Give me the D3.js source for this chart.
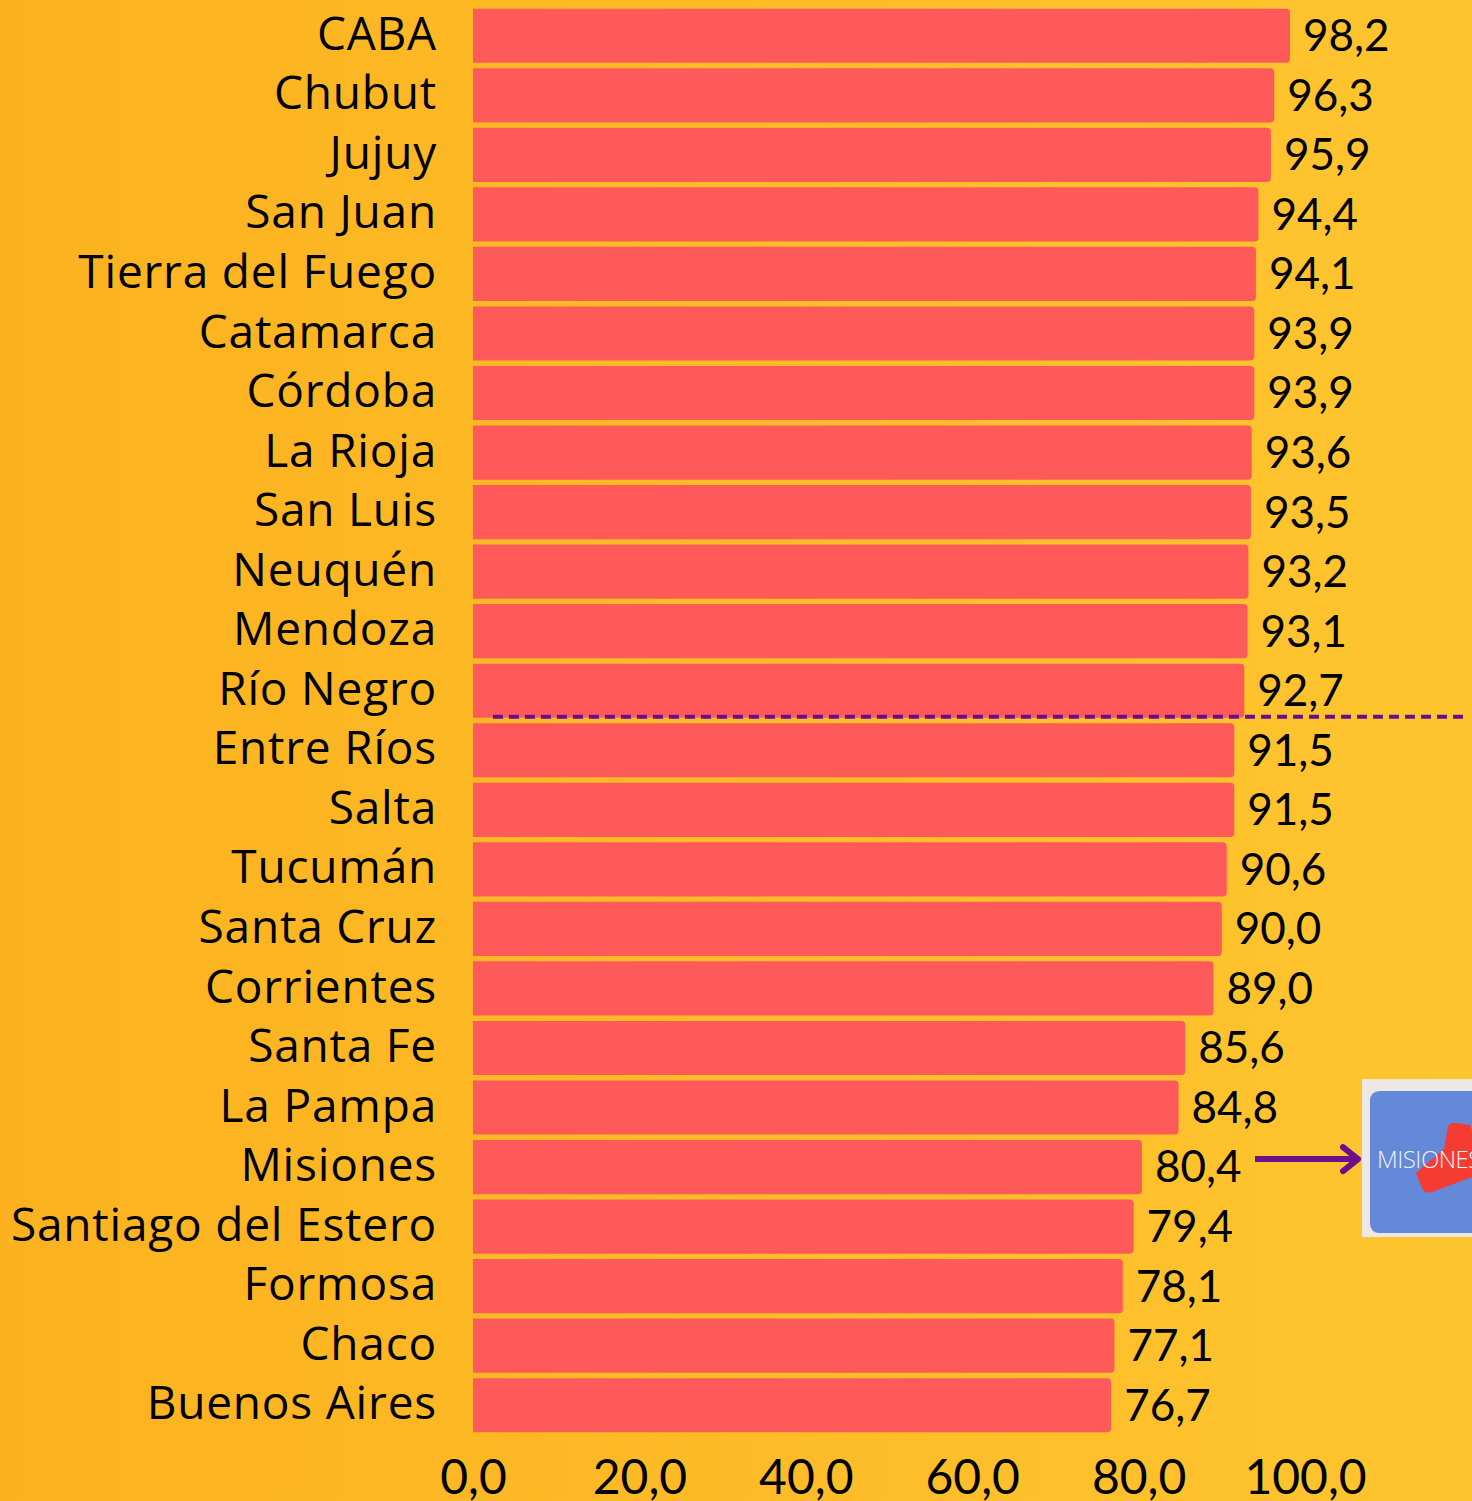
<!DOCTYPE html>
<html>
<head>
<meta charset="utf-8">
<script src="https://cdn.jsdelivr.net/npm/d3@7"></script>
<style>
  body { margin: 0; padding: 0; }
  svg { display: block; }
</style>
</head>
<body>
<div id="chart"></div>
<script>
// Data

var provinces = ["CABA", "Chubut", "Jujuy", "San Juan", "Tierra del Fuego", "Catamarca", "Córdoba",
    "La Rioja", "San Luis", "Neuquén", "Mendoza", "Río Negro", "Entre Ríos", "Salta", "Tucumán",
    "Santa Cruz", "Corrientes", "Santa Fe", "La Pampa", "Misiones", "Santiago del Estero",
    "Formosa", "Chaco", "Buenos Aires"];
var values = [98.2, 96.3, 95.9, 94.4, 94.1, 93.9, 93.9, 93.6, 93.5, 93.2, 93.1, 92.7, 91.5, 91.5,
    90.6, 90.0, 89.0, 85.6, 84.8, 80.4, 79.4, 78.1, 77.1, 76.7];
var xTicks = [0, 20, 40, 60, 80, 100];
var cutoffAfter = "Río Negro";   // dashed line below this row
var highlight = "Misiones";      // arrow points from this row

var w = 1472,
    h = 1501;

var svg = d3.select("#chart")
    .append("svg")
    .attr("width", w)
    .attr("height", h);

// Background gradient
var defs = svg.append("defs");
var grad = defs.append("linearGradient")
    .attr("id", "bg")
    .attr("x1", "0%").attr("x2", "100%")
    .attr("y1", "0%").attr("y2", "0%");
grad.append("stop").attr("offset", "0%").attr("stop-color", "#fcb21f");
grad.append("stop").attr("offset", "100%").attr("stop-color", "#fec52f");

svg.append("rect")
    .attr("width", w)
    .attr("height", h)
    .attr("fill", "url(#bg)");

// Scales
var x = d3.scaleLinear()
    .domain([0, 100])
    .range([473, 1305]);

var y = d3.scaleBand()
    .domain(provinces)
    .range([6, 1435])
    .paddingInner(0.09)
    .paddingOuter(0.045);

var fmt = function (v) { return d3.format(".1f")(v).replace(".", ","); };

// bars with small rounded right corners
function barPath(x0, x1, y0, bh, r) {
    return "M" + x0 + "," + y0 +
        "H" + (x1 - r) +
        "Q" + x1 + "," + y0 + " " + x1 + "," + (y0 + r) +
        "V" + (y0 + bh - r) +
        "Q" + x1 + "," + (y0 + bh) + " " + (x1 - r) + "," + (y0 + bh) +
        "H" + x0 + "Z";
}

svg.selectAll(".bar")
    .data(provinces)
    .enter()
    .append("path")
    .attr("class", "bar")
    .attr("fill", "#ff5a5a")
    .attr("d", function (d, i) {
        return barPath(x(0), x(values[i]), y(d), y.bandwidth(), 4);
    });

// category labels
svg.selectAll(".cat")
    .data(provinces)
    .enter()
    .append("text")
    .attr("class", "cat")
    .attr("x", 437)
    .attr("y", function (d) { return y(d) + y.bandwidth() / 2 - 2; })
    .attr("dy", "0.35em")
    .attr("text-anchor", "end")
    .attr("font-family", "Open Sans, sans-serif")
    .attr("font-size", "46px")
    .attr("letter-spacing", "0.8px")
    .attr("fill", "#000")
    .text(function (d) { return d; });

// value labels
svg.selectAll(".val")
    .data(provinces)
    .enter()
    .append("text")
    .attr("class", "val")
    .attr("x", function (d, i) { return x(values[i]) + 13; })
    .attr("y", function (d) { return y(d) + y.bandwidth() / 2; })
    .attr("dy", "0.35em")
    .attr("font-family", "Lato, sans-serif")
    .attr("font-size", "44px")
    .attr("fill", "#000")
    .text(function (d, i) { return fmt(values[i]); });

// x axis labels
var axis = d3.axisBottom(x)
    .tickValues(xTicks)
    .tickSize(0)
    .tickFormat(fmt);

var gAxis = svg.append("g")
    .attr("transform", "translate(0,1445)")
    .call(axis);
gAxis.select(".domain").remove();
gAxis.selectAll("text")
    .attr("font-family", "Lato, sans-serif")
    .attr("font-size", "48px")
    .attr("fill", "#000")
    .attr("dy", "0.95em");

// dashed cutoff line
var cutY = y(cutoffAfter) + y.bandwidth() - 1;
svg.append("line")
    .attr("x1", 493)
    .attr("x2", 1465)
    .attr("y1", cutY)
    .attr("y2", cutY)
    .attr("stroke", "#6a0d91")
    .attr("stroke-width", 4)
    .attr("stroke-dasharray", "10,6");

// logo box
var ly = y(highlight) + y.bandwidth() / 2 - 8;
var logo = svg.append("g");
logo.append("rect")
    .attr("x", 1362).attr("y", ly - 80)
    .attr("width", 120).attr("height", 158)
    .attr("fill", "#ede8e3");
logo.append("rect")
    .attr("x", 1370).attr("y", ly - 68)
    .attr("width", 120).attr("height", 142)
    .attr("rx", 9)
    .attr("fill", "#6389d8");
logo.append("path")
    .attr("d", "M1416," + (ly + 14) + " L1444," + (ly - 10) + " L1448," + (ly - 32) +
        " Q1450," + (ly - 37) + " 1456," + (ly - 36) + " L1470," + (ly - 34) +
        " L1472," + (ly - 28) + " L1472," + (ly + 18) + " L1432," + (ly + 33) +
        " Q1425," + (ly + 35) + " 1422," + (ly + 29) + " Z")
    .attr("fill", "#f53c32");
logo.append("text")
    .attr("x", 1377)
    .attr("y", ly + 9)
    .attr("font-family", "Open Sans, sans-serif")
    .attr("font-size", "24px")
    .attr("font-weight", 300)
    .attr("fill", "#f2f2f2")
    .attr("letter-spacing", "-0.5px")
    .text("MISIONES");

// arrow
svg.append("line")
    .attr("x1", 1255).attr("x2", 1356)
    .attr("y1", ly).attr("y2", ly)
    .attr("stroke", "#6a0f8e")
    .attr("stroke-width", 6);
svg.append("path")
    .attr("d", "M1343," + (ly - 12) + " L1358," + ly + " L1343," + (ly + 12))
    .attr("fill", "none")
    .attr("stroke", "#6a0f8e")
    .attr("stroke-width", 6)
    .attr("stroke-linecap", "round")
    .attr("stroke-linejoin", "round");
</script>
</body>
</html>
